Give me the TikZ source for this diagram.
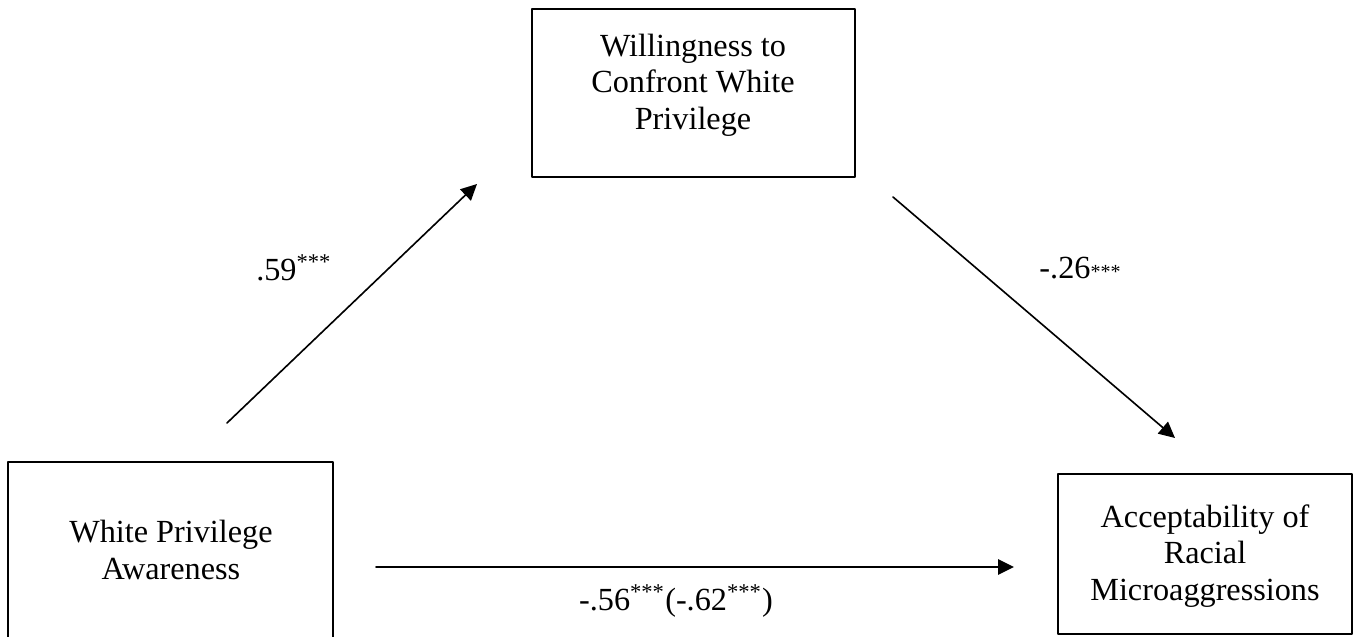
\documentclass[tikz,border=0pt]{standalone}
\usepackage{fontspec}
\setmainfont{Liberation Serif}
\usetikzlibrary{arrows.meta}

\begin{document}
\begin{tikzpicture}[x=0.4pt, y=-0.4pt, line cap=round, line join=round,
  box/.style={draw, line width=0.7pt, inner sep=0pt},
  boxtext/.style={align=center, inner sep=0pt,
    font=\fontsize{12.9}{14.6}\selectfont},
  effect/.style={line width=0.65pt, -{Triangle[length=6.4pt,width=6.2pt]}},
  coef/.style={inner sep=0pt, font=\fontsize{12.9}{14.6}\selectfont}]
  \useasboundingbox (0,0) rectangle (1354,637);

  % Ba biến của mô hình
  \node[box, minimum width=130pt, minimum height=71.2pt] (wpa) at (170.5,551) {};
  \node[box, minimum width=129.2pt, minimum height=67.2pt] (wcp) at (693.5,93) {};
  \node[box, minimum width=117.6pt, minimum height=64pt] (arm) at (1205,554) {};

  % Chữ trong hộp
  \node[boxtext] (wpa-t) at (171,550) {White Privilege\\Awareness};
  \node[boxtext] (wcp-t) at (693,85) {Willingness to\\Confront White\\Privilege};
  \node[boxtext] (arm-t) at (1205,556) {Acceptability of\\Racial\\Microaggressions};

  % Đầu mút các mũi tên (không chạm hộp)
  \coordinate (a1s) at (227,423);
  \coordinate (a1e) at (477,184);
  \coordinate (a2s) at (893,197);
  \coordinate (a2e) at (1175,438);
  \coordinate (a3s) at (376,567);
  \coordinate (a3e) at (1014,567);

  % Đường a, b và c'
  \draw[effect] (a1s) -- (a1e);
  \draw[effect] (a2s) -- (a2e);
  \draw[effect] (a3s) -- (a3e);

  % Hệ số
  \node[coef] (ca) at (294,268) {.59\textsuperscript{***}};
  \node[coef] (cb) at (1080,268) {-.26{\fontsize{8}{8}\selectfont ***}};
  \node[coef] (cc) at (676,601) {-.56\textsuperscript{***}(-.62\textsuperscript{***})};
\end{tikzpicture}
\end{document}
